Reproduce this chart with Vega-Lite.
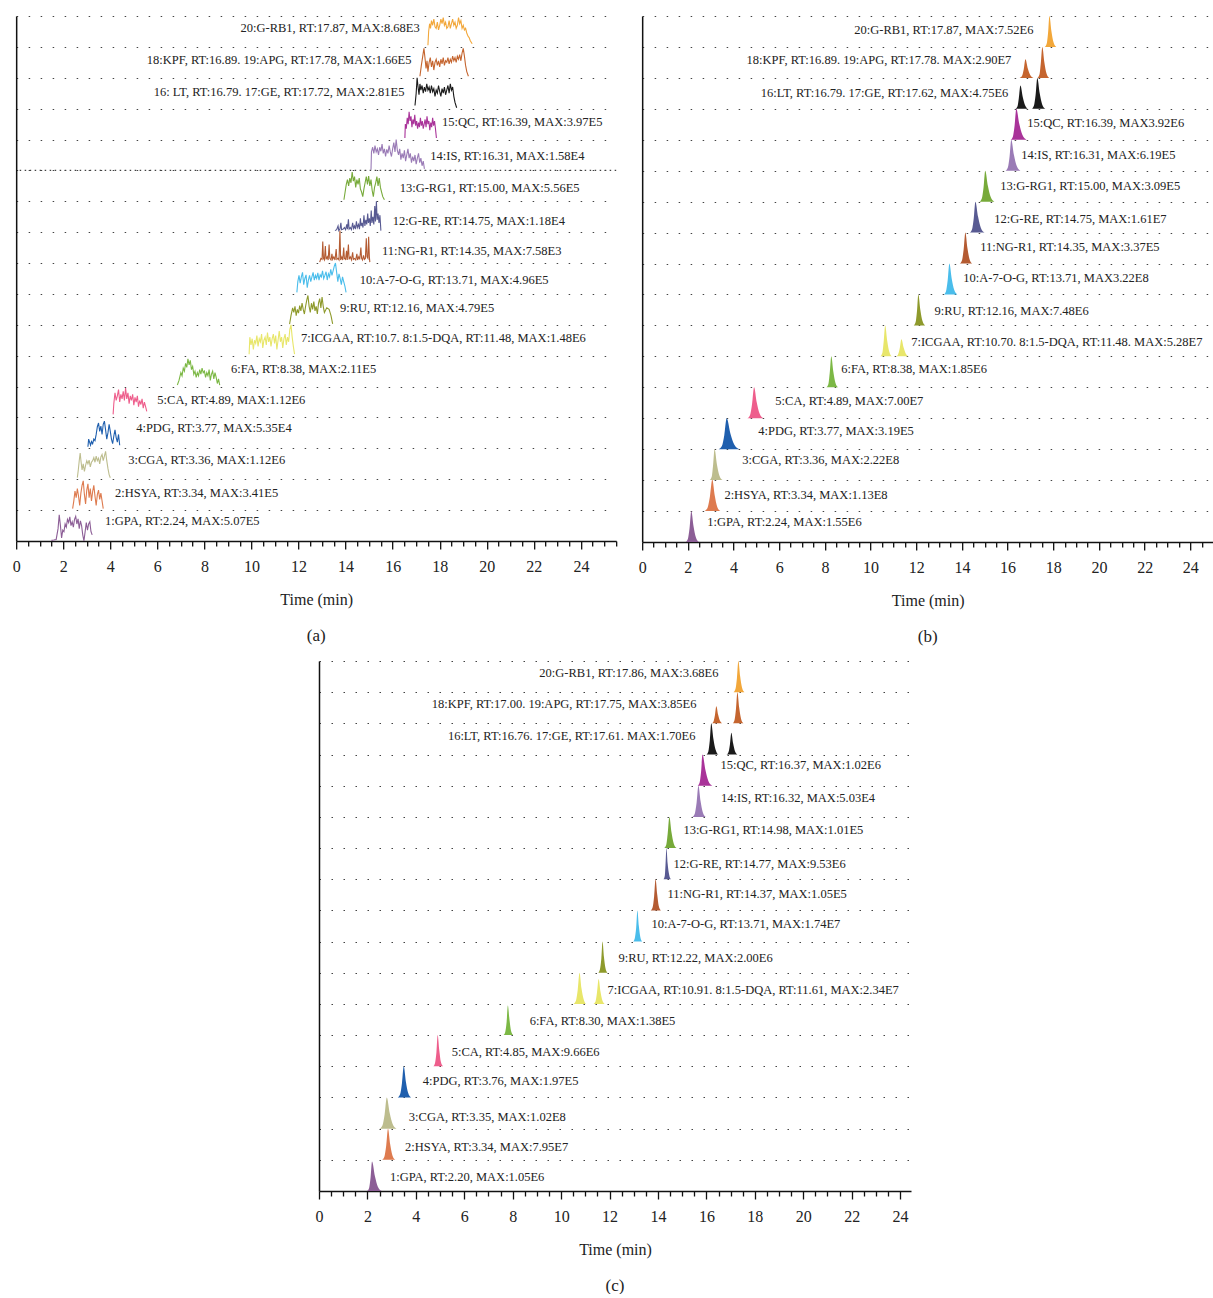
{
"$schema":"https://vega.github.io/schema/vega-lite/v6.json",
"background":"white",
"padding":{"left":12,"top":15,"right":0,"bottom":0},
"config":{
 "font":"Liberation Serif",
 "view":{"stroke":null},
 "axisX":{"domainColor":"#111","domainWidth":1.5,"tickColor":"#111","tickWidth":1.3,"labelFontSize":16,"labelColor":"#222","titleFontSize":16,"titleFontWeight":"normal","titleColor":"#222","labelFlush":false,"labelOverlap":false,"labelBound":false,"labelPadding":9,"titlePadding":17,"grid":false,"format":"d"},
 "axisY":{"domainColor":"#111","domainWidth":1.5,"ticks":false,"labels":false,"grid":true,"gridDash":[1.5,10.5],"gridColor":"#444","gridWidth":1.2},
 "title":{"fontSize":17,"fontWeight":"normal","color":"#222","orient":"bottom","offset":21}
},
"datasets":{
"pa":[
{"s":"1","t":1.5,"y":0.02},{"s":"1","t":1.6,"y":0.03},{"s":"1","t":1.7,"y":0.05},{"s":"1","t":1.78,"y":0.4},{"s":"1","t":1.83,"y":0.85},{"s":"1","t":1.88,"y":0.5},{"s":"1","t":1.93,"y":0.1},{"s":"1","t":1.98,"y":0.35},{"s":"1","t":2.03,"y":0.3},{"s":"1","t":2.08,"y":0.55},{"s":"1","t":2.13,"y":0.45},{"s":"1","t":2.18,"y":0.7},{"s":"1","t":2.23,"y":0.6},{"s":"1","t":2.28,"y":0.78},{"s":"1","t":2.33,"y":0.5},{"s":"1","t":2.38,"y":0.62},{"s":"1","t":2.43,"y":0.45},{"s":"1","t":2.48,"y":0.7},{"s":"1","t":2.53,"y":0.8},{"s":"1","t":2.58,"y":0.55},{"s":"1","t":2.63,"y":0.72},{"s":"1","t":2.68,"y":0.4},{"s":"1","t":2.73,"y":0.65},{"s":"1","t":2.78,"y":0.5},{"s":"1","t":2.83,"y":0.2},{"s":"1","t":2.88,"y":0.0},{"s":"1","t":2.93,"y":0.3},{"s":"1","t":2.98,"y":0.6},{"s":"1","t":3.03,"y":0.35},{"s":"1","t":3.08,"y":0.55},{"s":"1","t":3.13,"y":0.62},{"s":"1","t":3.18,"y":0.3},{"s":"1","t":3.23,"y":0.2},
{"s":"2","t":2.4,"y":1.05},{"s":"2","t":2.45,"y":1.3},{"s":"2","t":2.5,"y":1.62},{"s":"2","t":2.55,"y":1.4},{"s":"2","t":2.6,"y":1.7},{"s":"2","t":2.65,"y":1.45},{"s":"2","t":2.7,"y":1.15},{"s":"2","t":2.75,"y":1.55},{"s":"2","t":2.8,"y":1.8},{"s":"2","t":2.85,"y":1.95},{"s":"2","t":2.9,"y":1.5},{"s":"2","t":2.95,"y":1.2},{"s":"2","t":3.0,"y":1.65},{"s":"2","t":3.05,"y":1.85},{"s":"2","t":3.1,"y":1.4},{"s":"2","t":3.15,"y":1.7},{"s":"2","t":3.2,"y":1.3},{"s":"2","t":3.25,"y":1.6},{"s":"2","t":3.3,"y":1.8},{"s":"2","t":3.35,"y":1.45},{"s":"2","t":3.4,"y":1.15},{"s":"2","t":3.45,"y":1.5},{"s":"2","t":3.5,"y":1.65},{"s":"2","t":3.55,"y":1.35},{"s":"2","t":3.6,"y":1.55},{"s":"2","t":3.65,"y":1.3},{"s":"2","t":3.7,"y":1.05},
{"s":"3","t":2.6,"y":2.05},{"s":"3","t":2.64,"y":2.3},{"s":"3","t":2.68,"y":2.6},{"s":"3","t":2.72,"y":2.85},{"s":"3","t":2.76,"y":2.55},{"s":"3","t":2.8,"y":2.3},{"s":"3","t":2.85,"y":2.5},{"s":"3","t":2.9,"y":2.25},{"s":"3","t":2.95,"y":2.45},{"s":"3","t":3.0,"y":2.6},{"s":"3","t":3.05,"y":2.5},{"s":"3","t":3.1,"y":2.62},{"s":"3","t":3.15,"y":2.4},{"s":"3","t":3.2,"y":2.55},{"s":"3","t":3.25,"y":2.6},{"s":"3","t":3.3,"y":2.7},{"s":"3","t":3.35,"y":2.55},{"s":"3","t":3.4,"y":2.75},{"s":"3","t":3.45,"y":2.6},{"s":"3","t":3.5,"y":2.68},{"s":"3","t":3.55,"y":2.5},{"s":"3","t":3.6,"y":2.72},{"s":"3","t":3.65,"y":2.8},{"s":"3","t":3.7,"y":2.6},{"s":"3","t":3.75,"y":2.75},{"s":"3","t":3.8,"y":2.9},{"s":"3","t":3.85,"y":2.6},{"s":"3","t":3.9,"y":2.35},{"s":"3","t":3.95,"y":2.15},{"s":"3","t":4.0,"y":2.05},
{"s":"4","t":3.05,"y":3.05},{"s":"4","t":3.08,"y":3.3},{"s":"4","t":3.12,"y":3.2},{"s":"4","t":3.16,"y":3.1},{"s":"4","t":3.2,"y":3.22},{"s":"4","t":3.25,"y":3.15},{"s":"4","t":3.3,"y":3.3},{"s":"4","t":3.35,"y":3.25},{"s":"4","t":3.4,"y":3.45},{"s":"4","t":3.45,"y":3.7},{"s":"4","t":3.5,"y":3.82},{"s":"4","t":3.55,"y":3.55},{"s":"4","t":3.6,"y":3.72},{"s":"4","t":3.65,"y":3.45},{"s":"4","t":3.7,"y":3.78},{"s":"4","t":3.75,"y":3.88},{"s":"4","t":3.8,"y":3.6},{"s":"4","t":3.85,"y":3.3},{"s":"4","t":3.9,"y":3.5},{"s":"4","t":3.95,"y":3.78},{"s":"4","t":4.0,"y":3.55},{"s":"4","t":4.05,"y":3.3},{"s":"4","t":4.1,"y":3.15},{"s":"4","t":4.15,"y":3.4},{"s":"4","t":4.2,"y":3.6},{"s":"4","t":4.25,"y":3.35},{"s":"4","t":4.3,"y":3.2},{"s":"4","t":4.35,"y":3.45},{"s":"4","t":4.4,"y":3.1},
{"s":"5","t":4.12,"y":4.1},{"s":"5","t":4.15,"y":4.45},{"s":"5","t":4.2,"y":4.8},{"s":"5","t":4.25,"y":4.55},{"s":"5","t":4.3,"y":4.7},{"s":"5","t":4.35,"y":4.9},{"s":"5","t":4.4,"y":4.5},{"s":"5","t":4.45,"y":4.75},{"s":"5","t":4.5,"y":4.6},{"s":"5","t":4.55,"y":4.85},{"s":"5","t":4.6,"y":4.55},{"s":"5","t":4.65,"y":4.95},{"s":"5","t":4.7,"y":4.6},{"s":"5","t":4.75,"y":4.8},{"s":"5","t":4.8,"y":4.45},{"s":"5","t":4.85,"y":4.7},{"s":"5","t":4.9,"y":4.55},{"s":"5","t":4.95,"y":4.75},{"s":"5","t":5.0,"y":4.4},{"s":"5","t":5.05,"y":4.65},{"s":"5","t":5.1,"y":4.5},{"s":"5","t":5.15,"y":4.7},{"s":"5","t":5.2,"y":4.35},{"s":"5","t":5.25,"y":4.55},{"s":"5","t":5.3,"y":4.42},{"s":"5","t":5.35,"y":4.6},{"s":"5","t":5.4,"y":4.3},{"s":"5","t":5.45,"y":4.5},{"s":"5","t":5.5,"y":4.35},{"s":"5","t":5.55,"y":4.2},
{"s":"6","t":6.85,"y":5.05},{"s":"6","t":6.92,"y":5.2},{"s":"6","t":7.0,"y":5.45},{"s":"6","t":7.05,"y":5.35},{"s":"6","t":7.1,"y":5.6},{"s":"6","t":7.15,"y":5.5},{"s":"6","t":7.2,"y":5.75},{"s":"6","t":7.25,"y":5.62},{"s":"6","t":7.3,"y":5.9},{"s":"6","t":7.35,"y":5.7},{"s":"6","t":7.4,"y":5.85},{"s":"6","t":7.45,"y":5.55},{"s":"6","t":7.5,"y":5.65},{"s":"6","t":7.55,"y":5.4},{"s":"6","t":7.6,"y":5.5},{"s":"6","t":7.65,"y":5.3},{"s":"6","t":7.7,"y":5.45},{"s":"6","t":7.75,"y":5.35},{"s":"6","t":7.8,"y":5.55},{"s":"6","t":7.85,"y":5.4},{"s":"6","t":7.9,"y":5.6},{"s":"6","t":7.95,"y":5.45},{"s":"6","t":8.0,"y":5.5},{"s":"6","t":8.05,"y":5.3},{"s":"6","t":8.1,"y":5.45},{"s":"6","t":8.15,"y":5.35},{"s":"6","t":8.2,"y":5.55},{"s":"6","t":8.25,"y":5.2},{"s":"6","t":8.3,"y":5.4},{"s":"6","t":8.35,"y":5.5},{"s":"6","t":8.4,"y":5.25},{"s":"6","t":8.45,"y":5.45},{"s":"6","t":8.5,"y":5.3},{"s":"6","t":8.55,"y":5.1},{"s":"6","t":8.6,"y":5.25},{"s":"6","t":8.65,"y":5.05},
{"s":"7/8","t":9.9,"y":6.05},{"s":"7/8","t":9.93,"y":6.6},{"s":"7/8","t":9.98,"y":6.35},{"s":"7/8","t":10.03,"y":6.55},{"s":"7/8","t":10.08,"y":6.2},{"s":"7/8","t":10.13,"y":6.5},{"s":"7/8","t":10.18,"y":6.4},{"s":"7/8","t":10.23,"y":6.65},{"s":"7/8","t":10.28,"y":6.3},{"s":"7/8","t":10.33,"y":6.55},{"s":"7/8","t":10.38,"y":6.45},{"s":"7/8","t":10.43,"y":6.7},{"s":"7/8","t":10.48,"y":6.25},{"s":"7/8","t":10.53,"y":6.5},{"s":"7/8","t":10.58,"y":6.6},{"s":"7/8","t":10.63,"y":6.35},{"s":"7/8","t":10.68,"y":6.75},{"s":"7/8","t":10.73,"y":6.45},{"s":"7/8","t":10.78,"y":6.6},{"s":"7/8","t":10.83,"y":6.3},{"s":"7/8","t":10.88,"y":6.55},{"s":"7/8","t":10.93,"y":6.7},{"s":"7/8","t":10.98,"y":6.4},{"s":"7/8","t":11.03,"y":6.65},{"s":"7/8","t":11.08,"y":6.2},{"s":"7/8","t":11.13,"y":6.5},{"s":"7/8","t":11.18,"y":6.8},{"s":"7/8","t":11.23,"y":6.45},{"s":"7/8","t":11.28,"y":6.6},{"s":"7/8","t":11.33,"y":6.25},{"s":"7/8","t":11.38,"y":6.55},{"s":"7/8","t":11.43,"y":6.7},{"s":"7/8","t":11.48,"y":6.35},{"s":"7/8","t":11.53,"y":6.6},{"s":"7/8","t":11.58,"y":6.45},{"s":"7/8","t":11.63,"y":6.85},{"s":"7/8","t":11.68,"y":7.0},{"s":"7/8","t":11.73,"y":6.6},{"s":"7/8","t":11.78,"y":6.3},{"s":"7/8","t":11.83,"y":6.05},
{"s":"9","t":11.62,"y":7.02},{"s":"9","t":11.68,"y":7.3},{"s":"9","t":11.75,"y":7.55},{"s":"9","t":11.8,"y":7.4},{"s":"9","t":11.85,"y":7.6},{"s":"9","t":11.9,"y":7.3},{"s":"9","t":11.95,"y":7.5},{"s":"9","t":12.0,"y":7.38},{"s":"9","t":12.05,"y":7.62},{"s":"9","t":12.1,"y":7.45},{"s":"9","t":12.15,"y":7.7},{"s":"9","t":12.2,"y":7.5},{"s":"9","t":12.25,"y":7.35},{"s":"9","t":12.3,"y":7.6},{"s":"9","t":12.35,"y":7.8},{"s":"9","t":12.4,"y":7.95},{"s":"9","t":12.45,"y":7.6},{"s":"9","t":12.5,"y":7.4},{"s":"9","t":12.55,"y":7.7},{"s":"9","t":12.6,"y":7.5},{"s":"9","t":12.65,"y":7.75},{"s":"9","t":12.7,"y":7.45},{"s":"9","t":12.75,"y":7.6},{"s":"9","t":12.8,"y":7.35},{"s":"9","t":12.85,"y":7.7},{"s":"9","t":12.9,"y":7.85},{"s":"9","t":12.95,"y":7.55},{"s":"9","t":13.0,"y":7.9},{"s":"9","t":13.05,"y":7.6},{"s":"9","t":13.1,"y":7.4},{"s":"9","t":13.2,"y":7.55},{"s":"9","t":13.3,"y":7.5},{"s":"9","t":13.38,"y":7.3},{"s":"9","t":13.45,"y":7.03},
{"s":"10","t":11.93,"y":8.05},{"s":"10","t":11.97,"y":8.4},{"s":"10","t":12.02,"y":8.6},{"s":"10","t":12.07,"y":8.35},{"s":"10","t":12.12,"y":8.55},{"s":"10","t":12.17,"y":8.7},{"s":"10","t":12.22,"y":8.3},{"s":"10","t":12.27,"y":8.5},{"s":"10","t":12.32,"y":8.62},{"s":"10","t":12.37,"y":8.2},{"s":"10","t":12.42,"y":8.45},{"s":"10","t":12.47,"y":8.6},{"s":"10","t":12.52,"y":8.4},{"s":"10","t":12.57,"y":8.55},{"s":"10","t":12.62,"y":8.7},{"s":"10","t":12.67,"y":8.45},{"s":"10","t":12.72,"y":8.6},{"s":"10","t":12.77,"y":8.5},{"s":"10","t":12.82,"y":8.68},{"s":"10","t":12.87,"y":8.45},{"s":"10","t":12.92,"y":8.62},{"s":"10","t":12.97,"y":8.55},{"s":"10","t":13.02,"y":8.75},{"s":"10","t":13.07,"y":8.5},{"s":"10","t":13.12,"y":8.6},{"s":"10","t":13.17,"y":8.72},{"s":"10","t":13.22,"y":8.45},{"s":"10","t":13.27,"y":8.65},{"s":"10","t":13.32,"y":8.55},{"s":"10","t":13.37,"y":8.8},{"s":"10","t":13.42,"y":8.6},{"s":"10","t":13.47,"y":8.75},{"s":"10","t":13.52,"y":8.9},{"s":"10","t":13.57,"y":9.0},{"s":"10","t":13.62,"y":8.7},{"s":"10","t":13.67,"y":8.4},{"s":"10","t":13.72,"y":8.65},{"s":"10","t":13.77,"y":8.5},{"s":"10","t":13.82,"y":8.3},{"s":"10","t":13.87,"y":8.55},{"s":"10","t":13.92,"y":8.4},{"s":"10","t":13.97,"y":8.25},{"s":"10","t":14.02,"y":8.05},
{"s":"11","t":12.9,"y":9.03},{"s":"11","t":12.95,"y":9.15},{"s":"11","t":13.0,"y":9.12},{"s":"11","t":13.03,"y":9.7},{"s":"11","t":13.06,"y":9.15},{"s":"11","t":13.1,"y":9.1},{"s":"11","t":13.14,"y":9.55},{"s":"11","t":13.17,"y":9.12},{"s":"11","t":13.22,"y":9.2},{"s":"11","t":13.26,"y":9.1},{"s":"11","t":13.3,"y":9.6},{"s":"11","t":13.33,"y":9.15},{"s":"11","t":13.38,"y":9.1},{"s":"11","t":13.42,"y":9.3},{"s":"11","t":13.45,"y":9.12},{"s":"11","t":13.5,"y":9.2},{"s":"11","t":13.55,"y":9.1},{"s":"11","t":13.6,"y":9.45},{"s":"11","t":13.63,"y":9.12},{"s":"11","t":13.68,"y":9.15},{"s":"11","t":13.72,"y":9.1},{"s":"11","t":13.76,"y":10.05},{"s":"11","t":13.79,"y":9.1},{"s":"11","t":13.84,"y":9.2},{"s":"11","t":13.88,"y":9.1},{"s":"11","t":13.92,"y":9.5},{"s":"11","t":13.95,"y":9.15},{"s":"11","t":14.0,"y":9.12},{"s":"11","t":14.04,"y":9.4},{"s":"11","t":14.07,"y":9.1},{"s":"11","t":14.12,"y":9.6},{"s":"11","t":14.15,"y":9.12},{"s":"11","t":14.2,"y":9.2},{"s":"11","t":14.25,"y":9.1},{"s":"11","t":14.3,"y":9.35},{"s":"11","t":14.33,"y":9.12},{"s":"11","t":14.38,"y":9.15},{"s":"11","t":14.43,"y":9.1},{"s":"11","t":14.48,"y":9.3},{"s":"11","t":14.51,"y":9.1},{"s":"11","t":14.56,"y":9.2},{"s":"11","t":14.6,"y":9.12},{"s":"11","t":14.65,"y":9.5},{"s":"11","t":14.68,"y":9.15},{"s":"11","t":14.72,"y":9.1},{"s":"11","t":14.76,"y":9.25},{"s":"11","t":14.8,"y":9.12},{"s":"11","t":14.84,"y":9.15},{"s":"11","t":14.88,"y":9.8},{"s":"11","t":14.91,"y":9.2},{"s":"11","t":14.95,"y":9.15},{"s":"11","t":14.98,"y":9.85},{"s":"11","t":15.01,"y":9.2},{"s":"11","t":15.03,"y":9.03},
{"s":"12","t":13.55,"y":10.05},{"s":"12","t":13.62,"y":10.08},{"s":"12","t":13.68,"y":10.2},{"s":"12","t":13.71,"y":10.05},{"s":"12","t":13.76,"y":10.1},{"s":"12","t":13.8,"y":10.3},{"s":"12","t":13.83,"y":10.08},{"s":"12","t":13.9,"y":10.1},{"s":"12","t":13.95,"y":10.15},{"s":"12","t":14.0,"y":10.08},{"s":"12","t":14.05,"y":10.25},{"s":"12","t":14.08,"y":10.1},{"s":"12","t":14.12,"y":10.42},{"s":"12","t":14.15,"y":10.1},{"s":"12","t":14.2,"y":10.15},{"s":"12","t":14.25,"y":10.08},{"s":"12","t":14.3,"y":10.3},{"s":"12","t":14.34,"y":10.12},{"s":"12","t":14.38,"y":10.2},{"s":"12","t":14.42,"y":10.1},{"s":"12","t":14.46,"y":10.35},{"s":"12","t":14.5,"y":10.15},{"s":"12","t":14.55,"y":10.25},{"s":"12","t":14.59,"y":10.1},{"s":"12","t":14.63,"y":10.45},{"s":"12","t":14.66,"y":10.2},{"s":"12","t":14.7,"y":10.3},{"s":"12","t":14.74,"y":10.15},{"s":"12","t":14.78,"y":10.55},{"s":"12","t":14.82,"y":10.2},{"s":"12","t":14.86,"y":10.4},{"s":"12","t":14.9,"y":10.25},{"s":"12","t":14.94,"y":10.6},{"s":"12","t":14.97,"y":10.3},{"s":"12","t":15.01,"y":10.45},{"s":"12","t":15.05,"y":10.2},{"s":"12","t":15.09,"y":10.7},{"s":"12","t":15.12,"y":10.3},{"s":"12","t":15.16,"y":10.5},{"s":"12","t":15.2,"y":10.25},{"s":"12","t":15.24,"y":10.85},{"s":"12","t":15.27,"y":10.35},{"s":"12","t":15.31,"y":11.0},{"s":"12","t":15.34,"y":10.4},{"s":"12","t":15.38,"y":10.6},{"s":"12","t":15.42,"y":10.3},{"s":"12","t":15.46,"y":10.55},{"s":"12","t":15.5,"y":10.05},
{"s":"13","t":13.93,"y":11.05},{"s":"13","t":13.98,"y":11.3},{"s":"13","t":14.03,"y":11.55},{"s":"13","t":14.08,"y":11.7},{"s":"13","t":14.13,"y":11.5},{"s":"13","t":14.18,"y":11.75},{"s":"13","t":14.23,"y":11.6},{"s":"13","t":14.28,"y":11.95},{"s":"13","t":14.33,"y":11.65},{"s":"13","t":14.38,"y":11.8},{"s":"13","t":14.43,"y":11.45},{"s":"13","t":14.48,"y":11.7},{"s":"13","t":14.53,"y":11.55},{"s":"13","t":14.58,"y":11.75},{"s":"13","t":14.63,"y":11.4},{"s":"13","t":14.68,"y":11.3},{"s":"13","t":14.73,"y":11.15},{"s":"13","t":14.78,"y":11.4},{"s":"13","t":14.83,"y":11.6},{"s":"13","t":14.88,"y":11.8},{"s":"13","t":14.93,"y":11.55},{"s":"13","t":14.98,"y":11.82},{"s":"13","t":15.03,"y":11.5},{"s":"13","t":15.08,"y":11.7},{"s":"13","t":15.13,"y":11.35},{"s":"13","t":15.18,"y":11.15},{"s":"13","t":15.23,"y":11.45},{"s":"13","t":15.28,"y":11.6},{"s":"13","t":15.33,"y":11.8},{"s":"13","t":15.38,"y":11.5},{"s":"13","t":15.43,"y":11.75},{"s":"13","t":15.48,"y":11.45},{"s":"13","t":15.53,"y":11.3},{"s":"13","t":15.58,"y":11.15},{"s":"13","t":15.65,"y":11.05},
{"s":"14","t":15.08,"y":12.02},{"s":"14","t":15.1,"y":12.6},{"s":"14","t":15.15,"y":12.75},{"s":"14","t":15.2,"y":12.55},{"s":"14","t":15.25,"y":12.8},{"s":"14","t":15.3,"y":12.6},{"s":"14","t":15.35,"y":12.7},{"s":"14","t":15.4,"y":12.5},{"s":"14","t":15.45,"y":12.75},{"s":"14","t":15.5,"y":12.62},{"s":"14","t":15.55,"y":12.85},{"s":"14","t":15.6,"y":12.55},{"s":"14","t":15.65,"y":12.7},{"s":"14","t":15.7,"y":12.45},{"s":"14","t":15.75,"y":12.68},{"s":"14","t":15.8,"y":12.55},{"s":"14","t":15.85,"y":12.8},{"s":"14","t":15.9,"y":12.6},{"s":"14","t":15.95,"y":12.45},{"s":"14","t":16.0,"y":12.7},{"s":"14","t":16.05,"y":12.9},{"s":"14","t":16.1,"y":12.6},{"s":"14","t":16.15,"y":13.0},{"s":"14","t":16.2,"y":12.65},{"s":"14","t":16.25,"y":12.5},{"s":"14","t":16.3,"y":12.7},{"s":"14","t":16.35,"y":12.35},{"s":"14","t":16.4,"y":12.55},{"s":"14","t":16.45,"y":12.4},{"s":"14","t":16.5,"y":12.65},{"s":"14","t":16.55,"y":12.3},{"s":"14","t":16.6,"y":12.5},{"s":"14","t":16.65,"y":12.7},{"s":"14","t":16.7,"y":12.4},{"s":"14","t":16.75,"y":12.55},{"s":"14","t":16.8,"y":12.25},{"s":"14","t":16.85,"y":12.45},{"s":"14","t":16.9,"y":12.3},{"s":"14","t":16.95,"y":12.5},{"s":"14","t":17.0,"y":12.2},{"s":"14","t":17.05,"y":12.4},{"s":"14","t":17.1,"y":12.55},{"s":"14","t":17.15,"y":12.25},{"s":"14","t":17.2,"y":12.4},{"s":"14","t":17.25,"y":12.15},{"s":"14","t":17.3,"y":12.3},{"s":"14","t":17.35,"y":12.05},
{"s":"15","t":16.52,"y":13.05},{"s":"15","t":16.54,"y":13.5},{"s":"15","t":16.58,"y":13.35},{"s":"15","t":16.62,"y":13.7},{"s":"15","t":16.66,"y":13.5},{"s":"15","t":16.7,"y":13.9},{"s":"15","t":16.74,"y":13.6},{"s":"15","t":16.78,"y":13.75},{"s":"15","t":16.82,"y":13.4},{"s":"15","t":16.86,"y":13.65},{"s":"15","t":16.9,"y":13.5},{"s":"15","t":16.94,"y":13.8},{"s":"15","t":16.98,"y":13.45},{"s":"15","t":17.02,"y":13.6},{"s":"15","t":17.06,"y":13.35},{"s":"15","t":17.1,"y":13.55},{"s":"15","t":17.14,"y":13.4},{"s":"15","t":17.18,"y":13.7},{"s":"15","t":17.22,"y":13.45},{"s":"15","t":17.26,"y":13.6},{"s":"15","t":17.3,"y":13.35},{"s":"15","t":17.34,"y":13.5},{"s":"15","t":17.38,"y":13.65},{"s":"15","t":17.42,"y":13.4},{"s":"15","t":17.46,"y":13.75},{"s":"15","t":17.5,"y":13.5},{"s":"15","t":17.54,"y":13.6},{"s":"15","t":17.58,"y":13.3},{"s":"15","t":17.62,"y":13.55},{"s":"15","t":17.66,"y":13.4},{"s":"15","t":17.7,"y":13.7},{"s":"15","t":17.74,"y":13.45},{"s":"15","t":17.78,"y":13.6},{"s":"15","t":17.82,"y":13.35},{"s":"15","t":17.86,"y":13.05},
{"s":"16/17","t":16.95,"y":14.1},{"s":"16/17","t":17.0,"y":14.5},{"s":"16/17","t":17.04,"y":15.0},{"s":"16/17","t":17.08,"y":14.7},{"s":"16/17","t":17.12,"y":14.45},{"s":"16/17","t":17.16,"y":14.8},{"s":"16/17","t":17.2,"y":14.6},{"s":"16/17","t":17.25,"y":14.75},{"s":"16/17","t":17.3,"y":14.5},{"s":"16/17","t":17.35,"y":14.7},{"s":"16/17","t":17.4,"y":14.55},{"s":"16/17","t":17.45,"y":14.8},{"s":"16/17","t":17.5,"y":14.6},{"s":"16/17","t":17.55,"y":14.7},{"s":"16/17","t":17.6,"y":14.5},{"s":"16/17","t":17.65,"y":14.75},{"s":"16/17","t":17.7,"y":14.55},{"s":"16/17","t":17.75,"y":14.65},{"s":"16/17","t":17.8,"y":14.4},{"s":"16/17","t":17.85,"y":14.6},{"s":"16/17","t":17.9,"y":14.5},{"s":"16/17","t":17.95,"y":14.75},{"s":"16/17","t":18.0,"y":14.55},{"s":"16/17","t":18.05,"y":14.4},{"s":"16/17","t":18.1,"y":14.65},{"s":"16/17","t":18.15,"y":14.5},{"s":"16/17","t":18.2,"y":14.7},{"s":"16/17","t":18.25,"y":14.45},{"s":"16/17","t":18.3,"y":14.6},{"s":"16/17","t":18.35,"y":14.75},{"s":"16/17","t":18.4,"y":14.5},{"s":"16/17","t":18.45,"y":14.8},{"s":"16/17","t":18.5,"y":14.6},{"s":"16/17","t":18.55,"y":14.7},{"s":"16/17","t":18.6,"y":14.4},{"s":"16/17","t":18.65,"y":14.2},{"s":"16/17","t":18.72,"y":14.03},
{"s":"18/19","t":17.16,"y":15.05},{"s":"18/19","t":17.22,"y":15.4},{"s":"18/19","t":17.28,"y":15.7},{"s":"18/19","t":17.33,"y":15.95},{"s":"18/19","t":17.38,"y":15.6},{"s":"18/19","t":17.42,"y":15.3},{"s":"18/19","t":17.46,"y":15.55},{"s":"18/19","t":17.5,"y":15.2},{"s":"18/19","t":17.55,"y":15.5},{"s":"18/19","t":17.6,"y":15.65},{"s":"18/19","t":17.65,"y":15.35},{"s":"18/19","t":17.7,"y":15.55},{"s":"18/19","t":17.75,"y":15.25},{"s":"18/19","t":17.8,"y":15.5},{"s":"18/19","t":17.85,"y":15.6},{"s":"18/19","t":17.9,"y":15.4},{"s":"18/19","t":17.95,"y":15.55},{"s":"18/19","t":18.0,"y":15.35},{"s":"18/19","t":18.05,"y":15.6},{"s":"18/19","t":18.1,"y":15.45},{"s":"18/19","t":18.15,"y":15.65},{"s":"18/19","t":18.2,"y":15.4},{"s":"18/19","t":18.25,"y":15.55},{"s":"18/19","t":18.3,"y":15.5},{"s":"18/19","t":18.35,"y":15.65},{"s":"18/19","t":18.4,"y":15.45},{"s":"18/19","t":18.45,"y":15.6},{"s":"18/19","t":18.5,"y":15.5},{"s":"18/19","t":18.55,"y":15.7},{"s":"18/19","t":18.6,"y":15.55},{"s":"18/19","t":18.65,"y":15.65},{"s":"18/19","t":18.7,"y":15.5},{"s":"18/19","t":18.75,"y":15.7},{"s":"18/19","t":18.8,"y":15.6},{"s":"18/19","t":18.85,"y":15.75},{"s":"18/19","t":18.9,"y":15.55},{"s":"18/19","t":18.95,"y":15.8},{"s":"18/19","t":19.0,"y":15.95},{"s":"18/19","t":19.05,"y":15.7},{"s":"18/19","t":19.1,"y":15.4},{"s":"18/19","t":19.15,"y":15.2},{"s":"18/19","t":19.22,"y":15.05},
{"s":"20","t":17.5,"y":16.05},{"s":"20","t":17.53,"y":16.5},{"s":"20","t":17.57,"y":16.75},{"s":"20","t":17.61,"y":16.6},{"s":"20","t":17.65,"y":16.85},{"s":"20","t":17.7,"y":16.7},{"s":"20","t":17.75,"y":16.9},{"s":"20","t":17.8,"y":16.65},{"s":"20","t":17.85,"y":16.6},{"s":"20","t":17.9,"y":16.8},{"s":"20","t":17.95,"y":16.55},{"s":"20","t":18.0,"y":16.7},{"s":"20","t":18.05,"y":16.9},{"s":"20","t":18.1,"y":16.75},{"s":"20","t":18.15,"y":16.95},{"s":"20","t":18.2,"y":16.7},{"s":"20","t":18.25,"y":16.8},{"s":"20","t":18.3,"y":16.6},{"s":"20","t":18.35,"y":16.65},{"s":"20","t":18.4,"y":16.85},{"s":"20","t":18.45,"y":16.6},{"s":"20","t":18.5,"y":16.75},{"s":"20","t":18.55,"y":16.9},{"s":"20","t":18.6,"y":16.7},{"s":"20","t":18.65,"y":16.8},{"s":"20","t":18.7,"y":16.6},{"s":"20","t":18.75,"y":16.7},{"s":"20","t":18.8,"y":16.95},{"s":"20","t":18.85,"y":16.75},{"s":"20","t":18.9,"y":16.85},{"s":"20","t":18.95,"y":16.6},{"s":"20","t":19.0,"y":16.7},{"s":"20","t":19.05,"y":16.55},{"s":"20","t":19.1,"y":16.6},{"s":"20","t":19.15,"y":16.45},{"s":"20","t":19.2,"y":16.35},{"s":"20","t":19.25,"y":16.3},{"s":"20","t":19.3,"y":16.2},{"s":"20","t":19.38,"y":16.1}
],
"pb":[
{"s":"1","l":0,"t":1.9,"y":0},{"s":"1","l":0,"t":2.0,"y":0.1},{"s":"1","l":0,"t":2.075,"y":0.45},{"s":"1","l":0,"t":2.15,"y":1.0},{"s":"1","l":0,"t":2.25,"y":0.5},{"s":"1","l":0,"t":2.35,"y":0.15},{"s":"1","l":0,"t":2.48,"y":0},
{"s":"2","l":1,"t":2.72,"y":1},{"s":"2","l":1,"t":2.86,"y":1.1},{"s":"2","l":1,"t":2.965,"y":1.46},{"s":"2","l":1,"t":3.07,"y":2.02},{"s":"2","l":1,"t":3.175,"y":1.51},{"s":"2","l":1,"t":3.28,"y":1.15},{"s":"2","l":1,"t":3.42,"y":1},
{"s":"3","l":2,"t":2.95,"y":2},{"s":"3","l":2,"t":3.04,"y":2.1},{"s":"3","l":2,"t":3.1,"y":2.45},{"s":"3","l":2,"t":3.17,"y":3.0},{"s":"3","l":2,"t":3.275,"y":2.5},{"s":"3","l":2,"t":3.38,"y":2.15},{"s":"3","l":2,"t":3.52,"y":2},
{"s":"4","l":3,"t":3.35,"y":3},{"s":"4","l":3,"t":3.49,"y":3.1},{"s":"4","l":3,"t":3.595,"y":3.45},{"s":"4","l":3,"t":3.7,"y":4.0},{"s":"4","l":3,"t":3.865,"y":3.5},{"s":"4","l":3,"t":4.03,"y":3.15},{"s":"4","l":3,"t":4.25,"y":3},
{"s":"5","l":4,"t":4.6,"y":4},{"s":"5","l":4,"t":4.72,"y":4.1},{"s":"5","l":4,"t":4.81,"y":4.45},{"s":"5","l":4,"t":4.9,"y":5.0},{"s":"5","l":4,"t":5.02,"y":4.5},{"s":"5","l":4,"t":5.14,"y":4.15},{"s":"5","l":4,"t":5.3,"y":4},
{"s":"6","l":5,"t":8.06,"y":5},{"s":"6","l":5,"t":8.15,"y":5.1},{"s":"6","l":5,"t":8.21,"y":5.45},{"s":"6","l":5,"t":8.28,"y":6.0},{"s":"6","l":5,"t":8.37,"y":5.5},{"s":"6","l":5,"t":8.46,"y":5.15},{"s":"6","l":5,"t":8.58,"y":5},
{"s":"7/8","l":6,"t":10.42,"y":6},{"s":"7/8","l":6,"t":10.51,"y":6.1},{"s":"7/8","l":6,"t":10.57,"y":6.45},{"s":"7/8","l":6,"t":10.64,"y":7.0},{"s":"7/8","l":6,"t":10.73,"y":6.5},{"s":"7/8","l":6,"t":10.82,"y":6.15},{"s":"7/8","l":6,"t":10.94,"y":6},{"s":"7/8","l":6,"t":11.1,"y":6},{"s":"7/8","l":6,"t":11.2,"y":6.055},{"s":"7/8","l":6,"t":11.275,"y":6.25},{"s":"7/8","l":6,"t":11.35,"y":6.55},{"s":"7/8","l":6,"t":11.45,"y":6.275},{"s":"7/8","l":6,"t":11.55,"y":6.08},{"s":"7/8","l":6,"t":11.68,"y":6},
{"s":"9","l":7,"t":11.89,"y":7},{"s":"9","l":7,"t":11.97,"y":7.1},{"s":"9","l":7,"t":12.03,"y":7.45},{"s":"9","l":7,"t":12.09,"y":8.0},{"s":"9","l":7,"t":12.18,"y":7.5},{"s":"9","l":7,"t":12.27,"y":7.15},{"s":"9","l":7,"t":12.39,"y":7},
{"s":"10","l":8,"t":13.2,"y":8},{"s":"10","l":8,"t":13.3,"y":8.1},{"s":"10","l":8,"t":13.375,"y":8.45},{"s":"10","l":8,"t":13.45,"y":9.0},{"s":"10","l":8,"t":13.555,"y":8.5},{"s":"10","l":8,"t":13.66,"y":8.15},{"s":"10","l":8,"t":13.8,"y":8},
{"s":"11","l":9,"t":13.9,"y":9},{"s":"11","l":9,"t":14.0,"y":9.1},{"s":"11","l":9,"t":14.075,"y":9.45},{"s":"11","l":9,"t":14.15,"y":10.0},{"s":"11","l":9,"t":14.24,"y":9.5},{"s":"11","l":9,"t":14.33,"y":9.15},{"s":"11","l":9,"t":14.45,"y":9},
{"s":"12","l":10,"t":14.34,"y":10},{"s":"12","l":10,"t":14.44,"y":10.1},{"s":"12","l":10,"t":14.515,"y":10.45},{"s":"12","l":10,"t":14.59,"y":11.0},{"s":"12","l":10,"t":14.71,"y":10.5},{"s":"12","l":10,"t":14.83,"y":10.15},{"s":"12","l":10,"t":14.99,"y":10},
{"s":"13","l":11,"t":14.77,"y":11},{"s":"13","l":11,"t":14.87,"y":11.1},{"s":"13","l":11,"t":14.945,"y":11.45},{"s":"13","l":11,"t":15.02,"y":12.0},{"s":"13","l":11,"t":15.14,"y":11.5},{"s":"13","l":11,"t":15.26,"y":11.15},{"s":"13","l":11,"t":15.42,"y":11},
{"s":"14","l":12,"t":15.91,"y":12},{"s":"14","l":12,"t":16.01,"y":12.1},{"s":"14","l":12,"t":16.085,"y":12.45},{"s":"14","l":12,"t":16.16,"y":13.0},{"s":"14","l":12,"t":16.28,"y":12.5},{"s":"14","l":12,"t":16.4,"y":12.15},{"s":"14","l":12,"t":16.56,"y":12},
{"s":"15","l":13,"t":16.13,"y":13},{"s":"15","l":13,"t":16.23,"y":13.1},{"s":"15","l":13,"t":16.305,"y":13.45},{"s":"15","l":13,"t":16.38,"y":14.0},{"s":"15","l":13,"t":16.515,"y":13.5},{"s":"15","l":13,"t":16.65,"y":13.15},{"s":"15","l":13,"t":16.83,"y":13},
{"s":"16/17","l":14,"t":16.34,"y":14},{"s":"16/17","l":14,"t":16.43,"y":14.075},{"s":"16/17","l":14,"t":16.49,"y":14.34},{"s":"16/17","l":14,"t":16.56,"y":14.75},{"s":"16/17","l":14,"t":16.665,"y":14.375},{"s":"16/17","l":14,"t":16.77,"y":14.11},{"s":"16/17","l":14,"t":16.91,"y":14},{"s":"16/17","l":14,"t":17.05,"y":14},{"s":"16/17","l":14,"t":17.15,"y":14.1},{"s":"16/17","l":14,"t":17.225,"y":14.45},{"s":"16/17","l":14,"t":17.3,"y":15.0},{"s":"16/17","l":14,"t":17.405,"y":14.5},{"s":"16/17","l":14,"t":17.51,"y":14.15},{"s":"16/17","l":14,"t":17.65,"y":14},
{"s":"18/19","l":15,"t":16.53,"y":15},{"s":"18/19","l":15,"t":16.63,"y":15.06},{"s":"18/19","l":15,"t":16.705,"y":15.27},{"s":"18/19","l":15,"t":16.78,"y":15.6},{"s":"18/19","l":15,"t":16.885,"y":15.3},{"s":"18/19","l":15,"t":16.99,"y":15.09},{"s":"18/19","l":15,"t":17.13,"y":15},{"s":"18/19","l":15,"t":17.3,"y":15},{"s":"18/19","l":15,"t":17.39,"y":15.1},{"s":"18/19","l":15,"t":17.45,"y":15.45},{"s":"18/19","l":15,"t":17.52,"y":16.0},{"s":"18/19","l":15,"t":17.61,"y":15.5},{"s":"18/19","l":15,"t":17.7,"y":15.15},{"s":"18/19","l":15,"t":17.82,"y":15},
{"s":"20","l":16,"t":17.63,"y":16},{"s":"20","l":16,"t":17.71,"y":16.1},{"s":"20","l":16,"t":17.77,"y":16.45},{"s":"20","l":16,"t":17.83,"y":17.0},{"s":"20","l":16,"t":17.92,"y":16.5},{"s":"20","l":16,"t":18.01,"y":16.15},{"s":"20","l":16,"t":18.13,"y":16}
],
"pc":[
{"s":"1","l":0,"t":1.99,"y":0},{"s":"1","l":0,"t":2.07,"y":0.095},{"s":"1","l":0,"t":2.13,"y":0.43},{"s":"1","l":0,"t":2.19,"y":0.95},{"s":"1","l":0,"t":2.31,"y":0.475},{"s":"1","l":0,"t":2.43,"y":0.14},{"s":"1","l":0,"t":2.59,"y":0},
{"s":"2","l":1,"t":2.6,"y":1},{"s":"2","l":1,"t":2.7,"y":1.1},{"s":"2","l":1,"t":2.775,"y":1.45},{"s":"2","l":1,"t":2.85,"y":2.0},{"s":"2","l":1,"t":2.94,"y":1.5},{"s":"2","l":1,"t":3.03,"y":1.15},{"s":"2","l":1,"t":3.15,"y":1},
{"s":"3","l":2,"t":2.5,"y":2},{"s":"3","l":2,"t":2.62,"y":2.1},{"s":"3","l":2,"t":2.71,"y":2.45},{"s":"3","l":2,"t":2.8,"y":3.0},{"s":"3","l":2,"t":2.92,"y":2.5},{"s":"3","l":2,"t":3.04,"y":2.15},{"s":"3","l":2,"t":3.2,"y":2},
{"s":"4","l":3,"t":3.25,"y":3},{"s":"4","l":3,"t":3.35,"y":3.1},{"s":"4","l":3,"t":3.425,"y":3.45},{"s":"4","l":3,"t":3.5,"y":4.0},{"s":"4","l":3,"t":3.59,"y":3.5},{"s":"4","l":3,"t":3.68,"y":3.15},{"s":"4","l":3,"t":3.8,"y":3},
{"s":"5","l":4,"t":4.72,"y":4},{"s":"5","l":4,"t":4.79,"y":4.1},{"s":"5","l":4,"t":4.85,"y":4.45},{"s":"5","l":4,"t":4.9,"y":5.0},{"s":"5","l":4,"t":4.97,"y":4.5},{"s":"5","l":4,"t":5.03,"y":4.15},{"s":"5","l":4,"t":5.12,"y":4},
{"s":"6","l":5,"t":7.62,"y":5},{"s":"6","l":5,"t":7.69,"y":5.095},{"s":"6","l":5,"t":7.75,"y":5.43},{"s":"6","l":5,"t":7.8,"y":5.95},{"s":"6","l":5,"t":7.87,"y":5.475},{"s":"6","l":5,"t":7.93,"y":5.14},{"s":"6","l":5,"t":8.02,"y":5},
{"s":"7/8","l":6,"t":10.51,"y":6},{"s":"7/8","l":6,"t":10.61,"y":6.1},{"s":"7/8","l":6,"t":10.685,"y":6.45},{"s":"7/8","l":6,"t":10.76,"y":7.0},{"s":"7/8","l":6,"t":10.84,"y":6.5},{"s":"7/8","l":6,"t":10.93,"y":6.15},{"s":"7/8","l":6,"t":11.04,"y":6},{"s":"7/8","l":6,"t":11.33,"y":6},{"s":"7/8","l":6,"t":11.42,"y":6.08},{"s":"7/8","l":6,"t":11.48,"y":6.36},{"s":"7/8","l":6,"t":11.55,"y":6.8},{"s":"7/8","l":6,"t":11.625,"y":6.4},{"s":"7/8","l":6,"t":11.7,"y":6.12},{"s":"7/8","l":6,"t":11.8,"y":6},
{"s":"9","l":7,"t":11.53,"y":7},{"s":"9","l":7,"t":11.6,"y":7.1},{"s":"9","l":7,"t":11.66,"y":7.45},{"s":"9","l":7,"t":11.71,"y":8.0},{"s":"9","l":7,"t":11.77,"y":7.5},{"s":"9","l":7,"t":11.83,"y":7.15},{"s":"9","l":7,"t":11.91,"y":7},
{"s":"10","l":8,"t":12.97,"y":8},{"s":"10","l":8,"t":13.04,"y":8.1},{"s":"10","l":8,"t":13.1,"y":8.45},{"s":"10","l":8,"t":13.15,"y":9.0},{"s":"10","l":8,"t":13.21,"y":8.5},{"s":"10","l":8,"t":13.27,"y":8.15},{"s":"10","l":8,"t":13.35,"y":8},
{"s":"11","l":9,"t":13.7,"y":9},{"s":"11","l":9,"t":13.78,"y":9.1},{"s":"11","l":9,"t":13.84,"y":9.45},{"s":"11","l":9,"t":13.9,"y":10.0},{"s":"11","l":9,"t":13.97,"y":9.5},{"s":"11","l":9,"t":14.03,"y":9.15},{"s":"11","l":9,"t":14.12,"y":9},
{"s":"12","l":10,"t":14.23,"y":10},{"s":"12","l":10,"t":14.28,"y":10.1},{"s":"12","l":10,"t":14.31,"y":10.45},{"s":"12","l":10,"t":14.35,"y":11.0},{"s":"12","l":10,"t":14.4,"y":10.5},{"s":"12","l":10,"t":14.46,"y":10.15},{"s":"12","l":10,"t":14.53,"y":10},
{"s":"13","l":11,"t":14.25,"y":11},{"s":"13","l":11,"t":14.34,"y":11.1},{"s":"13","l":11,"t":14.4,"y":11.45},{"s":"13","l":11,"t":14.47,"y":12.0},{"s":"13","l":11,"t":14.56,"y":11.5},{"s":"13","l":11,"t":14.65,"y":11.15},{"s":"13","l":11,"t":14.77,"y":11},
{"s":"14","l":12,"t":15.42,"y":12},{"s":"14","l":12,"t":15.52,"y":12.1},{"s":"14","l":12,"t":15.595,"y":12.45},{"s":"14","l":12,"t":15.67,"y":13.0},{"s":"14","l":12,"t":15.76,"y":12.5},{"s":"14","l":12,"t":15.85,"y":12.15},{"s":"14","l":12,"t":15.97,"y":12},
{"s":"15","l":13,"t":15.64,"y":13},{"s":"15","l":13,"t":15.72,"y":13.1},{"s":"15","l":13,"t":15.78,"y":13.45},{"s":"15","l":13,"t":15.84,"y":14.0},{"s":"15","l":13,"t":15.96,"y":13.5},{"s":"15","l":13,"t":16.08,"y":13.15},{"s":"15","l":13,"t":16.24,"y":13},
{"s":"16/17","l":14,"t":16.0,"y":14},{"s":"16/17","l":14,"t":16.08,"y":14.1},{"s":"16/17","l":14,"t":16.14,"y":14.45},{"s":"16/17","l":14,"t":16.2,"y":15.0},{"s":"16/17","l":14,"t":16.29,"y":14.5},{"s":"16/17","l":14,"t":16.38,"y":14.15},{"s":"16/17","l":14,"t":16.5,"y":14},{"s":"16/17","l":14,"t":16.83,"y":14},{"s":"16/17","l":14,"t":16.91,"y":14.07},{"s":"16/17","l":14,"t":16.97,"y":14.315},{"s":"16/17","l":14,"t":17.03,"y":14.7},{"s":"16/17","l":14,"t":17.105,"y":14.35},{"s":"16/17","l":14,"t":17.18,"y":14.105},{"s":"16/17","l":14,"t":17.28,"y":14},
{"s":"18/19","l":15,"t":16.21,"y":15},{"s":"18/19","l":15,"t":16.29,"y":15.055},{"s":"18/19","l":15,"t":16.35,"y":15.25},{"s":"18/19","l":15,"t":16.41,"y":15.55},{"s":"18/19","l":15,"t":16.485,"y":15.275},{"s":"18/19","l":15,"t":16.56,"y":15.08},{"s":"18/19","l":15,"t":16.66,"y":15},{"s":"18/19","l":15,"t":17.08,"y":15},{"s":"18/19","l":15,"t":17.16,"y":15.1},{"s":"18/19","l":15,"t":17.22,"y":15.45},{"s":"18/19","l":15,"t":17.28,"y":16.0},{"s":"18/19","l":15,"t":17.355,"y":15.5},{"s":"18/19","l":15,"t":17.43,"y":15.15},{"s":"18/19","l":15,"t":17.53,"y":15},
{"s":"20","l":16,"t":17.12,"y":16},{"s":"20","l":16,"t":17.2,"y":16.1},{"s":"20","l":16,"t":17.26,"y":16.45},{"s":"20","l":16,"t":17.32,"y":17.0},{"s":"20","l":16,"t":17.395,"y":16.5},{"s":"20","l":16,"t":17.47,"y":16.15},{"s":"20","l":16,"t":17.57,"y":16}
],
"lab":[
{"p":"a","l":0,"t":3.78,"y":0.65,"txt":"1:GPA, RT:2.24, MAX:5.07E5"},
{"p":"a","l":1,"t":4.2,"y":1.55,"txt":"2:HSYA, RT:3.34, MAX:3.41E5"},
{"p":"a","l":2,"t":4.76,"y":2.62,"txt":"3:CGA, RT:3.36, MAX:1.12E6"},
{"p":"a","l":3,"t":5.1,"y":3.66,"txt":"4:PDG, RT:3.77, MAX:5.35E4"},
{"p":"a","l":4,"t":6.0,"y":4.56,"txt":"5:CA, RT:4.89, MAX:1.12E6"},
{"p":"a","l":5,"t":9.13,"y":5.57,"txt":"6:FA, RT:8.38, MAX:2.11E5"},
{"p":"a","l":6,"t":12.1,"y":6.57,"txt":"7:ICGAA, RT:10.7. 8:1.5-DQA, RT:11.48, MAX:1.48E6"},
{"p":"a","l":7,"t":13.76,"y":7.54,"txt":"9:RU, RT:12.16, MAX:4.79E5"},
{"p":"a","l":8,"t":14.6,"y":8.45,"txt":"10:A-7-O-G, RT:13.71, MAX:4.96E5"},
{"p":"a","l":9,"t":15.55,"y":9.39,"txt":"11:NG-R1, RT:14.35, MAX:7.58E3"},
{"p":"a","l":10,"t":16.0,"y":10.36,"txt":"12:G-RE, RT:14.75, MAX:1.18E4"},
{"p":"a","l":11,"t":16.3,"y":11.42,"txt":"13:G-RG1, RT:15.00, MAX:5.56E5"},
{"p":"a","l":12,"t":17.6,"y":12.46,"txt":"14:IS, RT:16.31, MAX:1.58E4"},
{"p":"a","l":13,"t":18.1,"y":13.56,"txt":"15:QC, RT:16.39, MAX:3.97E5"},
{"p":"a","l":14,"t":16.5,"y":14.53,"txt":"16: LT, RT:16.79. 17:GE, RT:17.72, MAX:2.81E5"},
{"p":"a","l":15,"t":16.8,"y":15.57,"txt":"18:KPF, RT:16.89. 19:APG, RT:17.78, MAX:1.66E5"},
{"p":"a","l":16,"t":17.15,"y":16.6,"txt":"20:G-RB1, RT:17.87, MAX:8.68E3"},
{"p":"b","l":0,"t":2.85,"y":0.65,"txt":"1:GPA, RT:2.24, MAX:1.55E6"},
{"p":"b","l":1,"t":3.6,"y":1.52,"txt":"2:HSYA, RT:3.34, MAX:1.13E8"},
{"p":"b","l":2,"t":4.38,"y":2.65,"txt":"3:CGA, RT:3.36, MAX:2.22E8"},
{"p":"b","l":3,"t":5.08,"y":3.58,"txt":"4:PDG, RT:3.77, MAX:3.19E5"},
{"p":"b","l":4,"t":5.83,"y":4.55,"txt":"5:CA, RT:4.89, MAX:7.00E7"},
{"p":"b","l":5,"t":8.72,"y":5.58,"txt":"6:FA, RT:8.38, MAX:1.85E6"},
{"p":"b","l":6,"t":11.78,"y":6.48,"txt":"7:ICGAA, RT:10.70. 8:1.5-DQA, RT:11.48. MAX:5.28E7"},
{"p":"b","l":7,"t":12.8,"y":7.48,"txt":"9:RU, RT:12.16, MAX:7.48E6"},
{"p":"b","l":8,"t":14.06,"y":8.52,"txt":"10:A-7-O-G, RT:13.71, MAX3.22E8"},
{"p":"b","l":9,"t":14.8,"y":9.52,"txt":"11:NG-R1, RT:14.35, MAX:3.37E5"},
{"p":"b","l":10,"t":15.42,"y":10.45,"txt":"12:G-RE, RT:14.75, MAX:1.61E7"},
{"p":"b","l":11,"t":15.68,"y":11.52,"txt":"13:G-RG1, RT:15.00, MAX:3.09E5"},
{"p":"b","l":12,"t":16.6,"y":12.52,"txt":"14:IS, RT:16.31, MAX:6.19E5"},
{"p":"b","l":13,"t":16.86,"y":13.55,"txt":"15:QC, RT:16.39, MAX3.92E6"},
{"p":"b","l":14,"t":16.03,"y":14.52,"txt":"16:LT, RT:16.79. 17:GE, RT:17.62, MAX:4.75E6"},
{"p":"b","l":15,"t":16.16,"y":15.58,"txt":"18:KPF, RT:16.89. 19:APG, RT:17.78. MAX:2.90E7"},
{"p":"b","l":16,"t":17.13,"y":16.55,"txt":"20:G-RB1, RT:17.87, MAX:7.52E6"},
{"p":"c","l":0,"t":2.93,"y":0.45,"txt":"1:GPA, RT:2.20, MAX:1.05E6"},
{"p":"c","l":1,"t":3.55,"y":1.41,"txt":"2:HSYA, RT:3.34, MAX:7.95E7"},
{"p":"c","l":2,"t":3.71,"y":2.37,"txt":"3:CGA, RT:3.35, MAX:1.02E8"},
{"p":"c","l":3,"t":4.29,"y":3.53,"txt":"4:PDG, RT:3.76, MAX:1.97E5"},
{"p":"c","l":4,"t":5.48,"y":4.46,"txt":"5:CA, RT:4.85, MAX:9.66E6"},
{"p":"c","l":5,"t":8.7,"y":5.45,"txt":"6:FA, RT:8.30, MAX:1.38E5"},
{"p":"c","l":6,"t":11.92,"y":6.44,"txt":"7:ICGAA, RT:10.91. 8:1.5-DQA, RT:11.61, MAX:2.34E7"},
{"p":"c","l":7,"t":12.37,"y":7.47,"txt":"9:RU, RT:12.22, MAX:2.00E6"},
{"p":"c","l":8,"t":13.73,"y":8.56,"txt":"10:A-7-O-G, RT:13.71, MAX:1.74E7"},
{"p":"c","l":9,"t":14.39,"y":9.52,"txt":"11:NG-R1, RT:14.37, MAX:1.05E5"},
{"p":"c","l":10,"t":14.64,"y":10.48,"txt":"12:G-RE, RT:14.77, MAX:9.53E6"},
{"p":"c","l":11,"t":15.05,"y":11.57,"txt":"13:G-RG1, RT:14.98, MAX:1.01E5"},
{"p":"c","l":12,"t":16.6,"y":12.6,"txt":"14:IS, RT:16.32, MAX:5.03E4"},
{"p":"c","l":13,"t":16.58,"y":13.65,"txt":"15:QC, RT:16.37, MAX:1.02E6"},
{"p":"c","l":14,"t":15.55,"y":14.58,"txt":"16:LT, RT:16.76. 17:GE, RT:17.61. MAX:1.70E6"},
{"p":"c","l":15,"t":15.59,"y":15.61,"txt":"18:KPF, RT:17.00. 19:APG, RT:17.75, MAX:3.85E6"},
{"p":"c","l":16,"t":16.5,"y":16.6,"txt":"20:G-RB1, RT:17.86, MAX:3.68E6"}
]
},
"vconcat":[
{"hconcat":[
{"width":600,"height":525,"title":{"text":"(a)"},
 "encoding":{
    "x":{"field":"t","type":"quantitative","scale":{"domain":[0,25.5],"nice":false,"zero":false},
      "axis":{"title":"Time (min)","values":[0,0.5,1,1.5,2,2.5,3,3.5,4,4.5,5,5.5,6,6.5,7,7.5,8,8.5,9,9.5,10,10.5,11,11.5,12,12.5,13,13.5,14,14.5,15,15.5,16,16.5,17,17.5,18,18.5,19,19.5,20,20.5,21,21.5,22,22.5,23,23.5,24,24.5,25,25.5],
       "labelExpr":"datum.value % 2 === 0 ? datum.label : ''",
       "tickSize":{"condition":{"test":"datum.value % 2 === 0","value":8},"value":5}}},
    "y":{"field":"y","type":"quantitative","scale":{"domain":[0,17],"nice":false},"axis":{"title":null,"values":[1,2,3,4,5,6,7,8,9,10,11,12,13,14,15,16,17]}}
 },
 "layer":[
  {"data":{"name":"pa"},"mark":{"type":"line","strokeWidth":1.1},
   "encoding":{
    "color":{"field":"s","type":"nominal","legend":null,
      "scale":{"domain":["1","2","3","4","5","6","7/8","9","10","11","12","13","14","15","16/17","18/19","20"],
       "range":["#8C5E96","#DE7B4F","#BDBD8E","#1F5FAE","#EE5E8C","#7CB845","#E8E66A","#8E9A2C","#4ABDEB","#B45B32","#585A92","#77AA3A","#9A7BB6","#A93399","#1A1A1A","#C5652F","#F2A73A"]}}
   }},
  {"data":{"name":"lab"},"transform":[{"filter":"datum.p === 'a' && datum.l == 12"}],"mark":{"type":"rule","strokeDash":[1.5,3.5],"color":"#444","strokeWidth":1.2},"encoding":{"x":null,"y":{"field":"l","type":"quantitative"}}},
  {"data":{"name":"lab"},"transform":[{"filter":"datum.p === 'a' && datum.l < 14"}],
   "mark":{"type":"text","align":"left","baseline":"middle","fontSize":12.5,"color":"#222"},
   "encoding":{"text":{"field":"txt"}}},
  {"data":{"name":"lab"},"transform":[{"filter":"datum.p === 'a' && datum.l >= 14"}],
   "mark":{"type":"text","align":"right","baseline":"middle","fontSize":12.5,"color":"#222"},
   "encoding":{"text":{"field":"txt"}}}
 ]},
{"width":571,"height":526,"title":{"text":"(b)"},
 "encoding":{
    "x":{"field":"t","type":"quantitative","scale":{"domain":[0,25],"nice":false,"zero":false},
      "axis":{"title":"Time (min)","values":[0,0.5,1,1.5,2,2.5,3,3.5,4,4.5,5,5.5,6,6.5,7,7.5,8,8.5,9,9.5,10,10.5,11,11.5,12,12.5,13,13.5,14,14.5,15,15.5,16,16.5,17,17.5,18,18.5,19,19.5,20,20.5,21,21.5,22,22.5,23,23.5,24,24.5,25],
       "labelExpr":"datum.value % 2 === 0 ? datum.label : ''",
       "tickSize":{"condition":{"test":"datum.value % 2 === 0","value":8},"value":5}}},
    "y":{"field":"y","type":"quantitative","scale":{"domain":[0,17],"nice":false},"axis":{"title":null,"values":[1,2,3,4,5,6,7,8,9,10,11,12,13,14,15,16,17]}}
 },
 "layer":[
  {"data":{"name":"pb"},"mark":{"type":"area","interpolate":"monotone"},
   "encoding":{
    "y2":{"field":"l"},
    "color":{"field":"s","type":"nominal","legend":null}
   }},
  {"data":{"name":"lab"},"transform":[{"filter":"datum.p === 'b' && datum.l < 14"}],
   "mark":{"type":"text","align":"left","baseline":"middle","fontSize":12.5,"color":"#222"},
   "encoding":{"text":{"field":"txt"}}},
  {"data":{"name":"lab"},"transform":[{"filter":"datum.p === 'b' && datum.l >= 14"}],
   "mark":{"type":"text","align":"right","baseline":"middle","fontSize":12.5,"color":"#222"},
   "encoding":{"text":{"field":"txt"}}}
 ]}
],"spacing":21},
{"width":592,"height":530,"title":{"text":"(c)"},
 "encoding":{
    "x":{"field":"t","type":"quantitative","scale":{"domain":[0,24.45],"nice":false,"zero":false},
      "axis":{"title":"Time (min)","values":[0,0.5,1,1.5,2,2.5,3,3.5,4,4.5,5,5.5,6,6.5,7,7.5,8,8.5,9,9.5,10,10.5,11,11.5,12,12.5,13,13.5,14,14.5,15,15.5,16,16.5,17,17.5,18,18.5,19,19.5,20,20.5,21,21.5,22,22.5,23,23.5,24],
       "labelExpr":"datum.value % 2 === 0 ? datum.label : ''",
       "tickSize":{"condition":{"test":"datum.value % 2 === 0","value":8},"value":5}}},
    "y":{"field":"y","type":"quantitative","scale":{"domain":[0,17],"nice":false},"axis":{"title":null,"values":[1,2,3,4,5,6,7,8,9,10,11,12,13,14,15,16,17]}}
 },
 "layer":[
  {"data":{"name":"pc"},"mark":{"type":"area","interpolate":"monotone"},
   "encoding":{
    "y2":{"field":"l"},
    "color":{"field":"s","type":"nominal","legend":null}
   }},
  {"data":{"name":"lab"},"transform":[{"filter":"datum.p === 'c' && datum.l < 14"}],
   "mark":{"type":"text","align":"left","baseline":"middle","fontSize":12.5,"color":"#222"},
   "encoding":{"text":{"field":"txt"}}},
  {"data":{"name":"lab"},"transform":[{"filter":"datum.p === 'c' && datum.l >= 14"}],
   "mark":{"type":"text","align":"right","baseline":"middle","fontSize":12.5,"color":"#222"},
   "encoding":{"text":{"field":"txt"}}}
 ]}
],
"spacing":16,
"center":true
}
